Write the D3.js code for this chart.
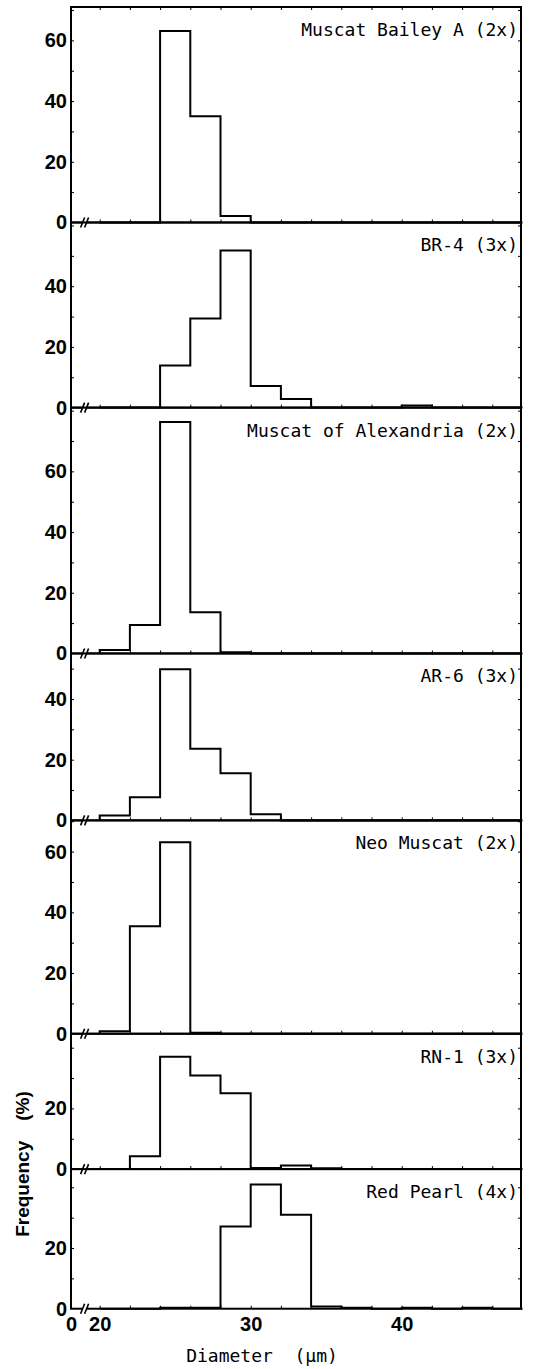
<!DOCTYPE html>
<html>
<head>
<meta charset="utf-8">
<script src="https://cdn.jsdelivr.net/npm/d3@7"></script>
<style>
  body { margin: 0; background: #fff; }
  svg { display: block; }
  .tick line { stroke: #000; }
</style>
</head>
<body>
<svg id="chart"></svg>
<script>
// bins of 2 um, starting values
const binStarts = [20, 22, 24, 26, 28, 30, 32, 34, 36, 38, 40, 42, 44, 46];
const binWidth = 2;

const names = ['Muscat Bailey A (2x)', 'BR-4 (3x)', 'Muscat of Alexandria (2x)', 'AR-6 (3x)',
  'Neo Muscat (2x)', 'RN-1 (3x)', 'Red Pearl (4x)'];

const muscatBaileyA = [0, 0, 63.1, 35.0, 2.1, 0, 0, 0, 0, 0, 0, 0, 0, 0];
const br4 = [0, 0, 13.9, 29.4, 51.8, 7.1, 2.8, 0, 0, 0, 0.7, 0, 0, 0];
const muscatAlexandria = [1.1, 9.4, 76.3, 13.6, 0.4, 0, 0, 0, 0, 0, 0, 0, 0, 0];
const ar6 = [1.6, 7.6, 49.8, 23.6, 15.5, 2.0, 0, 0, 0, 0, 0, 0, 0, 0];
const neoMuscat = [0.8, 35.4, 63.1, 0.3, 0, 0, 0, 0, 0, 0, 0, 0, 0, 0];
const rn1 = [0, 4.2, 37.0, 30.8, 25.0, 0.4, 1.2, 0.3, 0, 0, 0, 0, 0, 0];
const redPearl = [0, 0, 0.3, 0.3, 27.1, 40.9, 31.0, 0.7, 0.3, 0, 0.3, 0, 0.3, 0];

const series = [muscatBaileyA, br4, muscatAlexandria, ar6, neoMuscat, rn1, redPearl];

// top of each panel's y range, and which ticks get a label
const yMaxes = [71, 61, 81, 55, 70.3, 44.6, 46];
const yLabels = [[0, 20, 40, 60], [0, 20, 40], [0, 20, 40, 60], [0, 20, 40], [0, 20, 40, 60], [0, 20], [0, 20]];

const xLabels = [20, 30, 40];

const W = 533, H = 1369;
const margin = {top: 7, left: 71, right: 12};
const pxPerUnit = 3.035;
const xStart = 18.1, xEnd = 47.9, xBreak = 19.0;
const labelFont = 'Liberation Sans, Arial, sans-serif';

const svg = d3.select('#chart')
    .attr('width', W)
    .attr('height', H);

svg.append('rect').attr('width', W).attr('height', H).attr('fill', '#fff');

const xScale = d3.scaleLinear()
    .domain([xStart, xEnd])
    .range([margin.left, W - margin.right]);

const minorX = d3.range(20, 47, 2);

let panelTop = margin.top;
const bases = [];

series.forEach((vals, i) => {
    const yMax = yMaxes[i];
    const base = panelTop + yMax * pxPerUnit;
    bases.push(base);

    const yScale = d3.scaleLinear()
        .domain([0, yMax])
        .range([base, panelTop]);

    const g = svg.append('g').attr('class', 'panel');

    // frame
    g.append('rect')
        .attr('x', xScale(xStart))
        .attr('y', panelTop)
        .attr('width', xScale(xEnd) - xScale(xStart))
        .attr('height', base - panelTop)
        .attr('fill', 'none')
        .attr('stroke', '#000')
        .attr('stroke-width', 2);

    // inner ticks along the baseline
    g.append('g')
        .attr('transform', `translate(0,${base})`)
        .call(d3.axisBottom(xScale).tickValues(minorX).tickSize(-3).tickFormat(''))
        .call(a => a.select('.domain').remove());

    if (i === 0) {
        g.append('g')
            .attr('transform', `translate(0,${panelTop})`)
            .call(d3.axisTop(xScale).tickValues(minorX).tickSize(-3).tickFormat(''))
            .call(a => a.select('.domain').remove());
    }

    const minorY = d3.range(10, yMax, 10);
    g.append('g')
        .attr('transform', `translate(${xScale(xStart)},0)`)
        .call(d3.axisLeft(yScale).tickValues(minorY).tickSize(-3).tickFormat(''))
        .call(a => a.select('.domain').remove());
    g.append('g')
        .attr('transform', `translate(${xScale(xEnd)},0)`)
        .call(d3.axisRight(yScale).tickValues(minorY).tickSize(-3).tickFormat(''))
        .call(a => a.select('.domain').remove());

    // y labels
    g.append('g')
        .attr('transform', `translate(${xScale(xStart)},0)`)
        .call(d3.axisLeft(yScale).tickValues(yLabels[i]).tickSize(0).tickPadding(4))
        .call(a => a.select('.domain').remove())
        .call(a => a.selectAll('text')
            .attr('font-family', labelFont)
            .attr('font-weight', 'bold')
            .attr('font-size', 20)
            .attr('fill', '#000'));

    // step outline of the histogram
    const pts = [[binStarts[0], 0]];
    vals.forEach((v, j) => pts.push([binStarts[j], v]));
    pts.push([binStarts[binStarts.length - 1] + binWidth, vals[vals.length - 1]]);
    pts.push([binStarts[binStarts.length - 1] + binWidth, 0]);

    const line = d3.line()
        .x(d => xScale(d[0]))
        .y(d => yScale(d[1]))
        .curve(d3.curveStepAfter);

    g.append('path')
        .datum(pts)
        .attr('d', line)
        .attr('fill', 'none')
        .attr('stroke', '#000')
        .attr('stroke-width', 2)
        .attr('stroke-linejoin', 'miter');

    // axis break mark
    const bx = xScale(xBreak);
    g.append('rect')
        .attr('x', bx - 2).attr('y', base - 2)
        .attr('width', 4).attr('height', 4)
        .attr('fill', '#fff');
    [-2, 2].forEach(off => {
        g.append('line')
            .attr('x1', bx + off - 2).attr('y1', base + 5)
            .attr('x2', bx + off + 2).attr('y2', base - 5)
            .attr('stroke', '#000')
            .attr('stroke-width', 1.6);
    });

    // panel name
    g.append('text')
        .attr('x', xScale(xEnd) - 3)
        .attr('y', panelTop + 29)
        .attr('text-anchor', 'end')
        .attr('font-family', 'DejaVu Sans Mono, monospace')
        .attr('font-size', 18)
        .text(names[i]);

    panelTop = base;
});

const bottom = bases[bases.length - 1];

// x labels, the left edge stands for 0
svg.append('g')
    .attr('transform', `translate(0,${bottom})`)
    .call(d3.axisBottom(xScale).tickValues([xStart].concat(xLabels)).tickSize(0).tickPadding(8)
        .tickFormat(d => d < 20 ? '0' : d))
    .call(a => a.select('.domain').remove())
    .call(a => a.selectAll('text')
        .attr('font-family', labelFont)
        .attr('font-weight', 'bold')
        .attr('font-size', 20)
        .attr('fill', '#000'));

svg.append('text')
    .attr('x', 262)
    .attr('y', 1362)
    .attr('text-anchor', 'middle')
    .attr('font-family', 'DejaVu Sans Mono, monospace')
    .attr('font-size', 18)
    .attr('xml:space', 'preserve')
    .text('Diameter  (\u00b5m)');

const yTitle = svg.append('text')
    .attr('transform', 'translate(29,1164) rotate(-90)')
    .attr('text-anchor', 'middle')
    .attr('font-family', labelFont)
    .attr('font-weight', 'bold')
    .attr('font-size', 19);
yTitle.append('tspan').text('Frequency');
yTitle.append('tspan').attr('dx', 20).text('(%)');
</script>
</body>
</html>
